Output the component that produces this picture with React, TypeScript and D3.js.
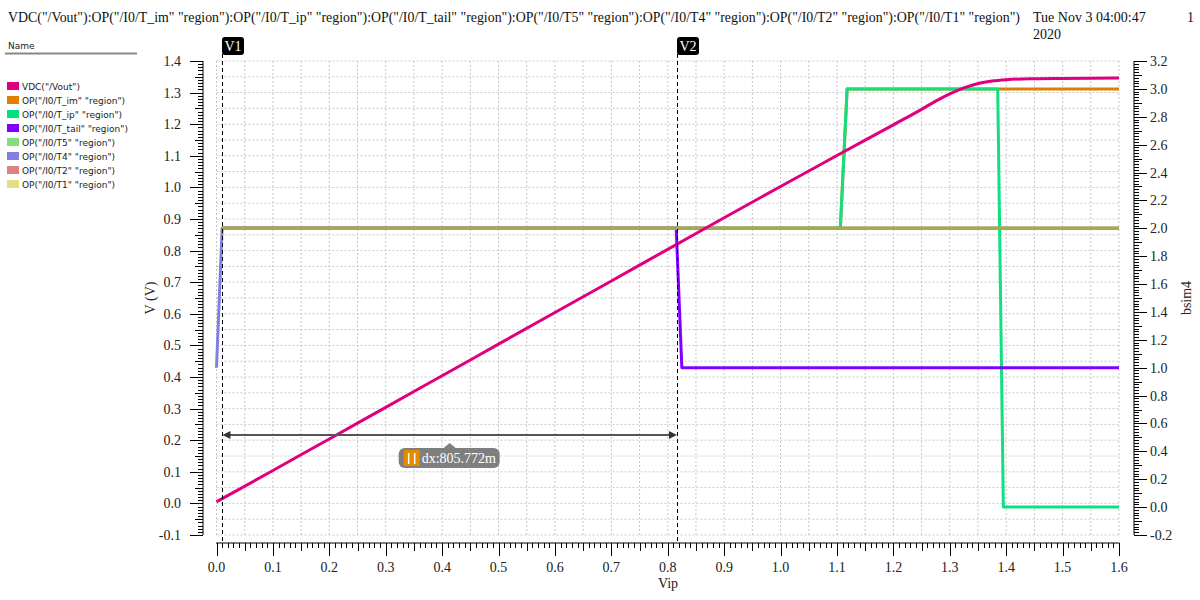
import * as d3 from 'd3';

const TITLE =
  'VDC("/Vout"):OP("/I0/T_im" "region"):OP("/I0/T_ip" "region"):OP("/I0/T_tail" "region"):OP("/I0/T5" "region"):OP("/I0/T4" "region"):OP("/I0/T2" "region"):OP("/I0/T1" "region")';

// Vout sweep (left axis, V)
const voutVip = [0, 0.1, 0.2, 0.3, 0.4, 0.5, 0.6, 0.7, 0.8, 0.9, 1.0, 1.1, 1.2, 1.25, 1.275, 1.3, 1.325, 1.35, 1.375, 1.4, 1.45, 1.5, 1.6];
const voutVal = [0.005, 0.104, 0.204, 0.304, 0.404, 0.504, 0.604, 0.704, 0.804, 0.904, 1.003, 1.101, 1.198, 1.247, 1.273, 1.296, 1.315, 1.329, 1.337, 1.341, 1.344, 1.345, 1.346];

// region traces (right axis, bsim4)
const regionNames = ['OP("/I0/T_im" "region")', 'OP("/I0/T_ip" "region")', 'OP("/I0/T_tail" "region")', 'OP("/I0/T5" "region")', 'OP("/I0/T4" "region")', 'OP("/I0/T2" "region")', 'OP("/I0/T1" "region")'];
const regionColors = ['#e08000', '#00e080', '#8000ff', '#80e080', '#8080e0', '#e08080', '#e0e080'];
const regionStroke = ['#e08000', '#10e080', '#8000ff', '#a8a84c', '#8080e0', '#a8a84c', '#a8a84c'];
const regionVip = [
  [0.01, 1.106, 1.118, 1.6],
  [0.01, 1.106, 1.118, 1.385, 1.395, 1.6],
  [0.01, 0.815, 0.825, 1.6],
  [0.01, 1.6],
  [0, 0.01, 1.6],
  [0.01, 1.6],
  [0.01, 1.6],
];
const regionVal = [
  [2, 2, 3, 3],
  [2, 2, 3, 3, 0, 0],
  [2, 2, 1, 1],
  [2, 2],
  [1, 2, 2],
  [2, 2],
  [2, 2],
];

const V1 = 0.0105;
const V2 = 0.816272;
const DX_LEVEL = 0.2165;

const serif = '"Liberation Serif", serif';
const sans = '"DejaVu Sans", sans-serif';

const x = d3.scaleLinear().domain([0, 1.6]).range([216.5, 1119]);
const yL = d3.scaleLinear().domain([-0.1, 1.4]).range([535, 61]);
const yR = d3.scaleLinear().domain([-0.2, 3.2]).range([535, 61]);

const xTicks = d3.range(0, 161).map((i) => ({ i, v: i * 0.01 }));
const yLTicks = d3.range(0, 151).map((i) => ({ i, v: -0.1 + i * 0.01 }));
const yRTicks = d3.range(0, 171).map((i) => ({ i, v: -0.2 + i * 0.02 }));

const tickLen = (i: number) => (i % 10 === 0 ? 13 : i % 5 === 0 ? 8 : 5);
const fmt = (v: number) => d3.format('.1f')(v).replace('\u2212', '-');

export default function App() {
  const voutLine = d3
    .line<number>()
    .x((_, k) => x(voutVip[k]))
    .y((d) => yL(d))
    .curve(d3.curveMonotoneX);
  const regLine = (vips: number[]) =>
    d3
      .line<number>()
      .x((_, k) => x(vips[k]))
      .y((d) => yR(d));

  const x1 = x(V1);
  const x2 = x(V2);
  const yd = yL(DX_LEVEL);
  const legend = [{ name: 'VDC("/Vout")', color: '#e0007f' }].concat(
    regionNames.map((n, k) => ({ name: n, color: regionColors[k] }))
  );

  return (
    <svg width={1200} height={600} style={{ position: 'absolute', left: 0, top: 0, background: '#fff' }}>
      <rect width={1200} height={600} fill="#fff" />
      {/* header */}
      <text x={8} y={22} fontFamily={serif} fontSize={14} fill="#111" textLength={1012} lengthAdjust="spacingAndGlyphs">
        {TITLE}
      </text>
      <text x={1033} y={22} fontFamily={serif} fontSize={14} fill="#111">Tue Nov 3 04:00:47</text>
      <text x={1033} y={39} fontFamily={serif} fontSize={14} fill="#111">2020</text>
      <text x={1187} y={22} fontFamily={serif} fontSize={14} fill="#111">1</text>

      {/* legend */}
      <text x={8} y={49} fontFamily={sans} fontSize={9} fill="#222">Name</text>
      <line x1={5} x2={137} y1={53.5} y2={53.5} stroke="#888" strokeWidth={2} />
      {legend.map((d, k) => (
        <g key={k} transform={`translate(0,${86 + k * 14})`}>
          <rect x={7} y={-4} width={12} height={8} fill={d.color} />
          <text x={22} y={3.5} fontFamily={sans} fontSize={9} fill="#222">{d.name}</text>
        </g>
      ))}

      {/* grid */}
      {xTicks.filter((t) => t.i % 5 === 0).map((t) => (
        <line key={'gx' + t.i} x1={x(t.v)} x2={x(t.v)} y1={61} y2={535} stroke="#c8c8c8" strokeDasharray="2,2" />
      ))}
      {yLTicks.filter((t) => t.i % 5 === 0).map((t) => (
        <line key={'gy' + t.i} x1={216.5} x2={1119} y1={yL(t.v)} y2={yL(t.v)} stroke="#c8c8c8" strokeDasharray="2,2" />
      ))}

      {/* left axis */}
      <line x1={203} x2={203} y1={61} y2={535} stroke="#000" />
      {yLTicks.map((t) => (
        <line key={'lt' + t.i} x1={203 - tickLen(t.i)} x2={203} y1={Math.round(yL(t.v)) + 0.5} y2={Math.round(yL(t.v)) + 0.5} stroke="#000" />
      ))}
      {yLTicks.filter((t) => t.i % 10 === 0).map((t) => (
        <text key={'ll' + t.i} x={181} y={yL(t.v) + 5} textAnchor="end" fontFamily={serif} fontSize={14} fill="#222">
          {fmt(t.v)}
        </text>
      ))}
      <text transform="translate(155,298) rotate(-90)" textAnchor="middle" fontFamily={serif} fontSize={14} fill="#222">V (V)</text>

      {/* right axis */}
      <line x1={1134} x2={1134} y1={61} y2={535} stroke="#000" />
      {yRTicks.map((t) => (
        <line key={'rt' + t.i} x1={1134} x2={1134 + tickLen(t.i)} y1={Math.round(yR(t.v)) + 0.5} y2={Math.round(yR(t.v)) + 0.5} stroke="#000" />
      ))}
      {yRTicks.filter((t) => t.i % 10 === 0).map((t) => (
        <text key={'rl' + t.i} x={1150} y={yR(t.v) + 5} fontFamily={serif} fontSize={14} fill="#222">
          {fmt(t.v)}
        </text>
      ))}
      <text transform="translate(1191,298) rotate(-90)" textAnchor="middle" fontFamily={serif} fontSize={14} fill="#222">bsim4</text>

      {/* bottom axis */}
      <line x1={216} x2={1119.5} y1={543} y2={543} stroke="#000" />
      {xTicks.map((t) => (
        <line key={'bt' + t.i} x1={Math.round(x(t.v)) + 0.5} x2={Math.round(x(t.v)) + 0.5} y1={543} y2={543 + tickLen(t.i)} stroke="#000" />
      ))}
      {xTicks.filter((t) => t.i % 10 === 0).map((t) => (
        <text key={'bl' + t.i} x={x(t.v)} y={572} textAnchor="middle" fontFamily={serif} fontSize={14} fill="#222">
          {fmt(t.v)}
        </text>
      ))}
      <text x={668} y={588} textAnchor="middle" fontFamily={serif} fontSize={14} fill="#222">Vip</text>

      {/* traces */}
      {regionVal.map((vals, k) => (
        <path key={'r' + k} d={regLine(regionVip[k])(vals) || ''} fill="none" stroke={regionStroke[k]} strokeWidth={3} strokeLinejoin="round" />
      ))}
      <path d={voutLine(voutVal) || ''} fill="none" stroke="#e0007f" strokeWidth={3} />

      {/* markers */}
      {[
        { v: V1, label: 'V1' },
        { v: V2, label: 'V2' },
      ].map((m) => (
        <g key={m.label}>
          <line x1={Math.round(x(m.v)) + 0.5} x2={Math.round(x(m.v)) + 0.5} y1={54} y2={543} stroke="#000" strokeDasharray="4,3" />
          <rect x={Math.round(x(m.v))} y={37} width={22} height={18} rx={3} fill="#000" />
          <text x={Math.round(x(m.v)) + 11} y={51} textAnchor="middle" fontFamily={serif} fontSize={14} fill="#fff">{m.label}</text>
        </g>
      ))}

      {/* dx annotation */}
      <line x1={x1 + 6} x2={x2 - 6} y1={yd} y2={yd} stroke="#555" strokeWidth={2} />
      <polygon points={`${x1},${yd} ${x1 + 8},${yd - 4} ${x1 + 8},${yd + 4}`} fill="#333" />
      <polygon points={`${x2},${yd} ${x2 - 8},${yd - 4} ${x2 - 8},${yd + 4}`} fill="#333" />
      <g transform={`translate(${(x1 + x2) / 2},${yd})`}>
        <polygon points="-6,13 6,13 0,8" fill="#7f7f7f" />
        <rect x={-51} y={13} width={101} height={20} rx={6} fill="#7f7f7f" />
        <rect x={-46} y={15} width={16} height={16} rx={1} fill="#e88a00" />
        <line x1={-41} x2={-41} y1={18} y2={29} stroke="#fff" strokeWidth={1.5} />
        <line x1={-35} x2={-35} y1={18} y2={29} stroke="#fff" strokeWidth={1.5} />
        <text x={-28} y={28.5} fontFamily={serif} fontSize={14} fill="#fff">dx:805.772m</text>
      </g>
    </svg>
  );
}
